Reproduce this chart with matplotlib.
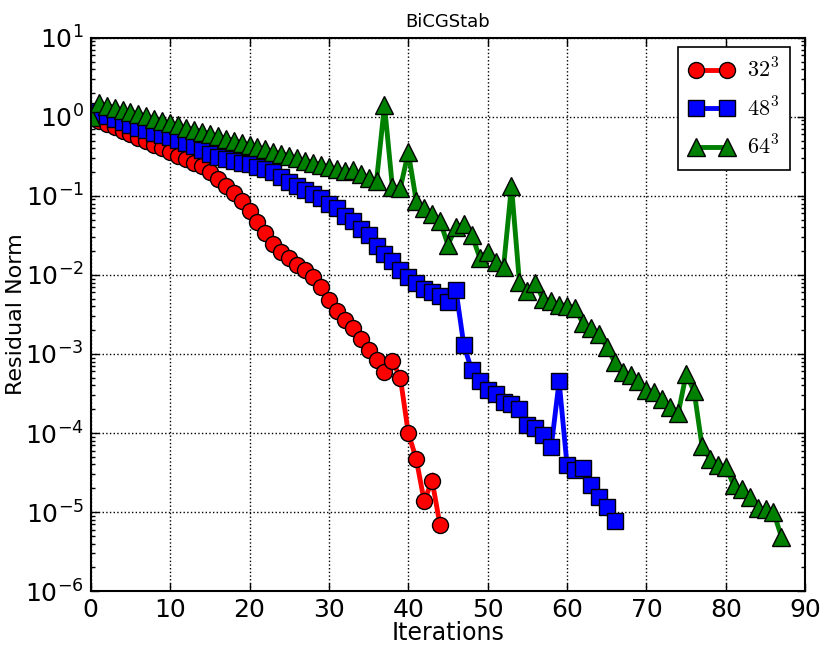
import matplotlib
matplotlib.use("Agg")
import matplotlib.pyplot as plt
from matplotlib.font_manager import FontProperties
from matplotlib.ticker import LogLocator, FixedLocator

# ---- data ----
res_32 = [1.0, 0.89, 0.81, 0.74, 0.66, 0.60, 0.54, 0.49, 0.44, 0.40,
          0.355, 0.32, 0.29, 0.26, 0.24, 0.20, 0.162, 0.135, 0.11, 0.087,
          0.065, 0.047, 0.034, 0.0245, 0.0195, 0.0166, 0.0135, 0.0115, 0.0095, 0.0071,
          0.0048, 0.0035, 0.0027, 0.0021, 0.00155, 0.00112, 0.00085, 0.00059, 0.00081, 0.0005,
          1.0e-4, 4.7e-5, 1.38e-5, 2.5e-5, 6.8e-6]

res_48 = [1.2, 1.12, 1.02, 0.93, 0.85, 0.79, 0.72, 0.68, 0.63, 0.59,
          0.55, 0.51, 0.47, 0.43, 0.38, 0.34, 0.31, 0.29, 0.275, 0.263,
          0.25, 0.235, 0.22, 0.20, 0.174, 0.15, 0.132, 0.117, 0.105, 0.093,
          0.079, 0.071, 0.056, 0.048, 0.038, 0.032, 0.0234, 0.0186, 0.0151, 0.0117,
          0.0095, 0.0079, 0.0066, 0.006, 0.0054, 0.0045, 0.0065, 0.00129, 0.00062, 0.00046,
          0.00035, 0.00031, 0.000245, 0.000234, 0.000204, 0.000126, 0.000117, 9.3e-5, 6.6e-5, 0.00045,
          3.9e-5, 3.4e-5, 3.6e-5, 2.2e-5, 1.55e-5, 1.15e-5, 7.6e-6]

res_64 = [1.0, 1.48, 1.39, 1.30, 1.22, 1.15, 1.08, 1.01, 0.95, 0.89,
          0.83, 0.78, 0.73, 0.69, 0.65, 0.61, 0.57, 0.53, 0.50, 0.47,
          0.44, 0.41, 0.39, 0.36, 0.34, 0.32, 0.30, 0.28, 0.264, 0.248,
          0.232, 0.218, 0.205, 0.21, 0.19, 0.17, 0.155, 1.4, 0.129, 0.126,
          0.355, 0.087, 0.071, 0.059, 0.048, 0.024, 0.040, 0.044, 0.032, 0.0166,
          0.0195, 0.0145, 0.0126, 0.132, 0.0081, 0.0063, 0.0079, 0.0049, 0.0047, 0.0042,
          0.0041, 0.0038, 0.00245, 0.0021, 0.0018, 0.00123, 0.00079, 0.00059, 0.00054, 0.00046,
          0.00035, 0.00033, 0.00027, 0.000214, 0.000178, 0.00055, 0.00034, 6.9e-5, 4.7e-5, 3.9e-5,
          3.7e-5, 2.2e-5, 1.95e-5, 1.55e-5, 1.12e-5, 1.1e-5, 1.0e-5, 4.9e-6]

labels = [r"$32^3$", r"$48^3$", r"$64^3$"]
colors = ["red", "blue", "green"]
markers = ["o", "s", "^"]
series = [res_32, res_48, res_64]

# ---- figure ----
fig = plt.figure(figsize=(8.25, 6.51), dpi=100, facecolor="white")
ax = fig.add_axes([0.110, 0.092, 0.866, 0.850])

for vals, lab, c, m in zip(series, labels, colors, markers):
    ax.plot(range(len(vals)), vals, color=c, marker=m, label=lab,
            linewidth=3.5, markersize=11.5 if m != "^" else 12.5,
            markeredgecolor="black", markeredgewidth=1.0,
            solid_joinstyle="miter")

ax.set_yscale("log")
ax.set_xlim(0, 90)
ax.set_ylim(1e-6, 1e1)
ax.xaxis.set_major_locator(FixedLocator(range(0, 91, 10)))
ax.yaxis.set_major_locator(LogLocator(base=10, numticks=20))
ax.yaxis.set_minor_locator(LogLocator(base=10, subs=range(2, 10), numticks=100))

ax.grid(True, which="major", color="black", linestyle=":", linewidth=1.0)
ax.tick_params(axis="both", which="both", direction="in", top=True, right=True)
ax.tick_params(axis="both", which="major", length=6, width=1, labelsize=18, pad=5)
ax.tick_params(axis="y", which="minor", length=3, width=1)
for sp in ax.spines.values():
    sp.set_linewidth(1.5)

ax.set_xlabel("Iterations", fontsize=17, labelpad=-1)
ax.set_ylabel("Residual Norm", fontsize=16)
ax.yaxis.set_label_coords(-0.09, 0.5)
ax.set_title("BiCGStab", fontsize=13, pad=8)

leg = ax.legend(loc="upper right", numpoints=2, fancybox=False, shadow=False,
                prop=FontProperties(size=16, math_fontfamily="cm"),
                borderpad=0.5, handlelength=2.0, handletextpad=0.6,
                labelspacing=0.65, borderaxespad=0.0,
                framealpha=1.0, edgecolor="black",
                bbox_to_anchor=(0.979, 0.984))
leg.get_frame().set_linewidth(1.2)

fig.savefig("out.png", dpi=100, facecolor="white")
